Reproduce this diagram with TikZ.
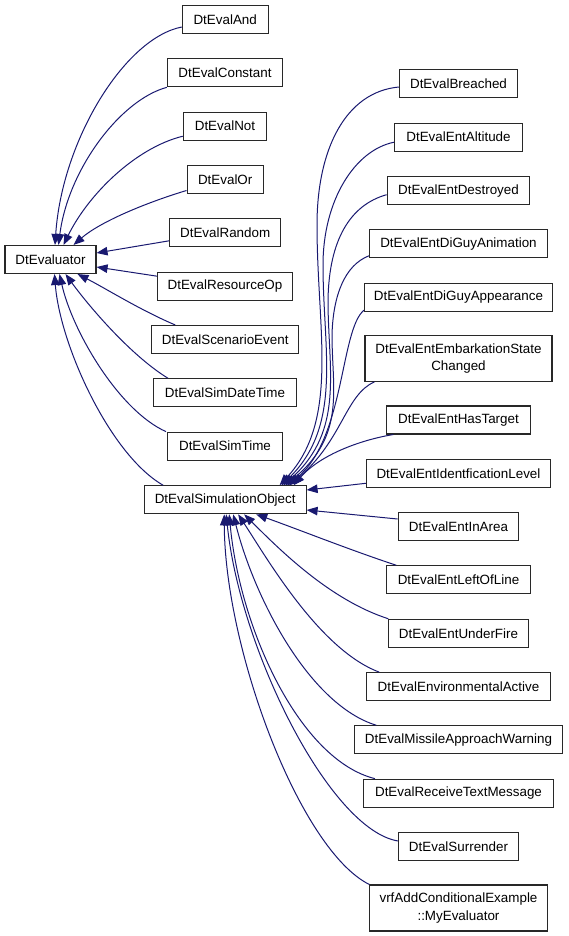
\documentclass[tikz,border=0pt]{standalone}
\usepackage{fontspec}
\setmainfont{Liberation Sans}
\usetikzlibrary{arrows.meta}
\definecolor{edgeblue}{RGB}{25,25,112}
\definecolor{boxline}{RGB}{40,40,40}
\begin{document}
\begin{tikzpicture}[x=1pt,y=-1pt,
  cls/.style={draw=boxline,line width=1.1pt,fill=white,inner sep=0pt,minimum height=28pt,
    align=center,font=\fontsize{13.4}{17.5}\selectfont},
  cls2/.style={cls,minimum height=46pt},
  edge/.style={draw=edgeblue,line width=1pt,-{Triangle[length=11pt,width=8.5pt]}}]
\useasboundingbox (0,0) rectangle (568,936);
% left column
\node[cls,minimum width=91pt] (eval) at (50.5,259.5) {DtEvaluator};
\node[cls,minimum width=85.7pt] (and) at (225.2,19.5) {DtEvalAnd};
\node[cls,minimum width=115.3pt] (const) at (225,72.8) {DtEvalConstant};
\node[cls,minimum width=83.3pt] (not) at (225,126.2) {DtEvalNot};
\node[cls,minimum width=76.3pt] (or) at (225.2,179.5) {DtEvalOr};
\node[cls,minimum width=111pt] (rand) at (225.2,232.8) {DtEvalRandom};
\node[cls,minimum width=134.7pt] (res) at (225,286.2) {DtEvalResourceOp};
\node[cls,minimum width=147pt] (scen) at (225.2,339.5) {DtEvalScenarioEvent};
\node[cls,minimum width=142.7pt] (sdt) at (225,392.8) {DtEvalSimDateTime};
\node[cls,minimum width=115.3pt] (stime) at (225,446.2) {DtEvalSimTime};
\node[cls,minimum width=161.7pt] (simobj) at (225.2,499.8) {DtEvalSimulationObject};
% right column
\node[cls,minimum width=118pt] (breached) at (458.5,83.5) {DtEvalBreached};
\node[cls,minimum width=127.7pt] (alt) at (458.5,137.2) {DtEvalEntAltitude};
\node[cls,minimum width=142.7pt] (destr) at (458.5,190.7) {DtEvalEntDestroyed};
\node[cls,minimum width=178pt] (anim) at (458.5,243.8) {DtEvalEntDiGuyAnimation};
\node[cls,minimum width=188pt] (appear) at (458.5,297.2) {DtEvalEntDiGuyAppearance};
\node[cls2,minimum width=187pt] (embark) at (458.5,358.3) {DtEvalEntEmbarkationState\\Changed};
\node[cls,minimum width=143.3pt] (target) at (458.5,420) {DtEvalEntHasTarget};
\node[cls,minimum width=184.3pt] (ident) at (458.5,473.3) {DtEvalEntIdentficationLevel};
\node[cls,minimum width=120.7pt] (inarea) at (458.5,526.5) {DtEvalEntInArea};
\node[cls,minimum width=143.3pt] (left) at (458.5,579.8) {DtEvalEntLeftOfLine};
\node[cls,minimum width=139.3pt] (fire) at (458.5,633.3) {DtEvalEntUnderFire};
\node[cls,minimum width=183.3pt] (env) at (458.5,686.7) {DtEvalEnvironmentalActive};
\node[cls,minimum width=207.3pt] (missile) at (458.5,739.8) {DtEvalMissileApproachWarning};
\node[cls,minimum width=190pt] (receive) at (458.5,793.2) {DtEvalReceiveTextMessage};
\node[cls,minimum width=119.7pt] (surr) at (458.5,846.5) {DtEvalSurrender};
\node[cls2,minimum width=177.3pt] (myeval) at (458.5,908) {vrfAddConditionalExample\\::MyEvaluator};
% edges to DtEvaluator
\draw[edge] ([shift={(0,7.5)}]and.west) .. controls (125,38) and (62,140) .. ([shift={(4.5,0)}]eval.north);
\draw[edge] (const.south west) .. controls (120,100) and (68,170) .. ([shift={(8,0)}]eval.north);
\draw[edge] ([shift={(0,10)}]not.west) .. controls (135,148) and (88,195) .. ([shift={(13,0)}]eval.north);
\draw[edge] ([shift={(0,11)}]or.west) .. controls (145,203) and (100,222) .. ([shift={(23,0)}]eval.north);
\draw[edge] ([shift={(0,8)}]rand.west) -- ([shift={(0,-6.5)}]eval.east);
\draw[edge] ([shift={(0,-10)}]res.west) -- ([shift={(0,7.5)}]eval.east);
\draw[edge] ([shift={(-50,0)}]scen.north) .. controls (140,310) and (105,288) .. ([shift={(27,0)}]eval.south);
\draw[edge] ([shift={(-57,0)}]sdt.north) .. controls (130,355) and (88,305) .. ([shift={(15,0)}]eval.south);
\draw[edge] ([shift={(-59,0)}]stime.north) .. controls (118,410) and (72,330) .. ([shift={(9,0)}]eval.south);
\draw[edge] ([shift={(-62,0)}]simobj.north) .. controls (110,455) and (60,345) .. ([shift={(4,0)}]eval.south);
% edges to DtEvalSimulationObject
\draw[edge] ([shift={(0,3.5)}]breached.west) .. controls (345,92) and (317,150) .. (317,225) .. controls (317,330) and (340,420) .. ([shift={(-27,0)}]simobj.north east);
\draw[edge] ([shift={(0,5)}]alt.west) .. controls (355,150) and (323,200) .. (323,265) .. controls (323,350) and (343,425) .. ([shift={(-25,0)}]simobj.north east);
\draw[edge] ([shift={(0,4)}]destr.west) .. controls (350,205) and (329,240) .. (328,300) .. controls (328,370) and (345,430) .. ([shift={(-23,0)}]simobj.north east);
\draw[edge] ([shift={(0,12)}]anim.west) .. controls (345,265) and (333,295) .. (332,335) .. controls (332,390) and (346,435) .. ([shift={(-21,0)}]simobj.north east);
\draw[edge] ([shift={(0,13)}]appear.west) .. controls (340,330) and (345,440) .. ([shift={(-19,0)}]simobj.north east);
\draw[edge] ([shift={(10,0)}]embark.south west) .. controls (345,395) and (343,440) .. ([shift={(-17,0)}]simobj.north east);
\draw[edge] ([shift={(7,0)}]target.south west) .. controls (360,440) and (320,455) .. ([shift={(-13,0)}]simobj.north east);
\draw[edge] ([shift={(0,10)}]ident.west) -- ([shift={(0,-9.8)}]simobj.east);
\draw[edge] ([shift={(0,-7.5)}]inarea.west) -- ([shift={(0,10.2)}]simobj.east);
\draw[edge] ([shift={(10,0)}]left.north west) .. controls (350,550) and (300,530) .. ([shift={(31,0)}]simobj.south);
\draw[edge] (fire.north west) .. controls (330,600) and (280,550) .. ([shift={(19,0)}]simobj.south);
\draw[edge] ([shift={(13,0)}]env.north west) .. controls (320,650) and (268,560) .. ([shift={(13,0)}]simobj.south);
\draw[edge] ([shift={(22,0)}]missile.north west) .. controls (310,705) and (255,600) .. ([shift={(8,0)}]simobj.south);
\draw[edge] ([shift={(12,0)}]receive.north west) .. controls (300,760) and (240,630) .. ([shift={(4,0)}]simobj.south);
\draw[edge] ([shift={(0,-5.5)}]surr.west) .. controls (330,830) and (240,650) .. ([shift={(1,0)}]simobj.south);
\draw[edge] (myeval.north west) .. controls (300,850) and (225,650) .. ([shift={(-1,0)}]simobj.south);
\end{tikzpicture}
\end{document}
